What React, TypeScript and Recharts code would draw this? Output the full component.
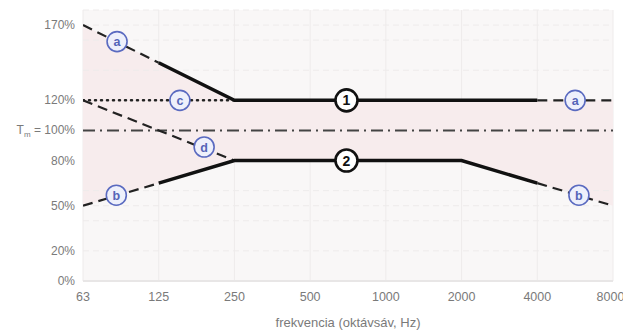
import {
  Area,
  CartesianGrid,
  ComposedChart,
  Label,
  Line,
  ReferenceDot,
  ReferenceLine,
  XAxis,
  YAxis,
} from "recharts";

// octave band centres, index 0..7 on the x axis
const octaves = ["63", "125", "250", "500", "1000", "2000", "4000", "8000"];
const upperBound = [170, 145, 120, 120, 120, 120, 120, 120];
const lowerBound = [50, 65, 80, 80, 80, 80, 65, 50];
const lineC = [120, 120, 120];
const lineD = [120, 100, 80];
const yTicks = [0, 20, 50, 80, 100, 120, 170];
const faintLevels = [20, 40, 50, 60, 140, 160, 170, 180];

const markers = [
  { id: "a", x: 0.45, y: 159 },
  { id: "a", x: 6.5, y: 120 },
  { id: "b", x: 0.44, y: 57 },
  { id: "b", x: 6.55, y: 57 },
  { id: "c", x: 1.28, y: 120 },
  { id: "d", x: 1.6, y: 89 },
  { id: "1", x: 3.48, y: 120 },
  { id: "2", x: 3.48, y: 80 },
];

const band = octaves.map((_, i) => ({ x: i, lower: lowerBound[i], upper: upperBound[i] }));
const pts = (vals: number[], from: number, to: number) =>
  vals.slice(from, to + 1).map((y, k) => ({ x: from + k, y }));

const FONT = "'Liberation Sans', Arial, sans-serif";

function YTick({ x, y, payload }: any) {
  const v = payload.value;
  return (
    <text x={x} y={y} dy={4} textAnchor="end" fontSize={12} fontFamily={FONT} fill="#7a7a7a">
      {v === 100 ? (
        <>
          T<tspan fontSize={8} dy={3}>m</tspan>
          <tspan dy={-3}> = 100%</tspan>
        </>
      ) : (
        `${v}%`
      )}
    </text>
  );
}

function Marker({ cx, cy, id }: any) {
  const numeric = id === "1" || id === "2";
  return (
    <g>
      <circle
        cx={cx}
        cy={cy}
        r={numeric ? 11 : 10}
        fill={numeric ? "#fff" : "#eef0fb"}
        stroke={numeric ? "#111" : "#5a6ac0"}
        strokeWidth={numeric ? 2.6 : 1.6}
      />
      <text
        x={cx}
        y={cy}
        dy={numeric ? 5 : 4.5}
        textAnchor="middle"
        fontSize={numeric ? 14 : 12.5}
        fontWeight="bold"
        fontFamily={FONT}
        fill={numeric ? "#111" : "#5565b8"}
      >
        {id}
      </text>
    </g>
  );
}

export default function App() {
  const solid = { stroke: "#111", strokeWidth: 3.5, dot: false, isAnimationActive: false } as const;
  const dashed = { stroke: "#222", strokeWidth: 2.2, strokeDasharray: "10 6", dot: false, isAnimationActive: false } as const;
  return (
    <div style={{ width: 623, height: 331 }}>
      <style>{`body{margin:0}`}</style>
      <ComposedChart width={623} height={331} data={band} margin={{ top: 10, right: 10, bottom: 0, left: 0 }}>
        <CartesianGrid horizontal={false} stroke="#eeebeb" fill="#f9f7f7" />
        <Area
          dataKey={(d: any) => [d.lower, d.upper]}
          type="linear"
          stroke="none"
          fill="#f7eced"
          fillOpacity={1}
          isAnimationActive={false}
        />
        {faintLevels.map((v) => (
          <ReferenceLine key={v} y={v} stroke="#eeebeb" strokeDasharray="6 4" />
        ))}
        <XAxis
          type="number"
          dataKey="x"
          domain={[0, 7]}
          ticks={octaves.map((_, i) => i)}
          tickFormatter={(i) => octaves[i]}
          tickLine={false}
          axisLine={{ stroke: "#e8e6e6", strokeWidth: 2 }}
          tick={{ fontSize: 12.5, fill: "#7a7a7a", fontFamily: FONT, dy: 3 }}
          height={50}
          allowDataOverflow
        >
          <Label
            value="frekvencia (oktávsáv, Hz)"
            position="insideBottom"
            offset={4}
            style={{ fontSize: 13, fill: "#7a7a7a", fontFamily: FONT }}
          />
        </XAxis>
        <YAxis
          type="number"
          domain={[0, 180]}
          ticks={yTicks}
          tick={<YTick />}
          tickLine={false}
          axisLine={false}
          width={83}
          interval={0}
        />
        <ReferenceLine y={100} stroke="#444" strokeWidth={2} strokeDasharray="12 5 2 5" />
        <Line data={pts(lineC, 0, 2)} dataKey="y" stroke="#222" strokeWidth={2.5} strokeDasharray="1 5" strokeLinecap="round" dot={false} isAnimationActive={false} />
        <Line data={pts(lineD, 0, 2)} dataKey="y" {...dashed} />
        <Line data={pts(upperBound, 0, 1)} dataKey="y" {...dashed} />
        <Line data={pts(upperBound, 1, 6)} dataKey="y" {...solid} />
        <Line data={pts(upperBound, 6, 7)} dataKey="y" {...dashed} />
        <Line data={pts(lowerBound, 0, 1)} dataKey="y" {...dashed} />
        <Line data={pts(lowerBound, 1, 6)} dataKey="y" {...solid} />
        <Line data={pts(lowerBound, 6, 7)} dataKey="y" {...dashed} />
        {markers.map((m, i) => (
          <ReferenceDot key={i} x={m.x} y={m.y} r={10} shape={(p: any) => <Marker {...p} id={m.id} />} />
        ))}
      </ComposedChart>
    </div>
  );
}
